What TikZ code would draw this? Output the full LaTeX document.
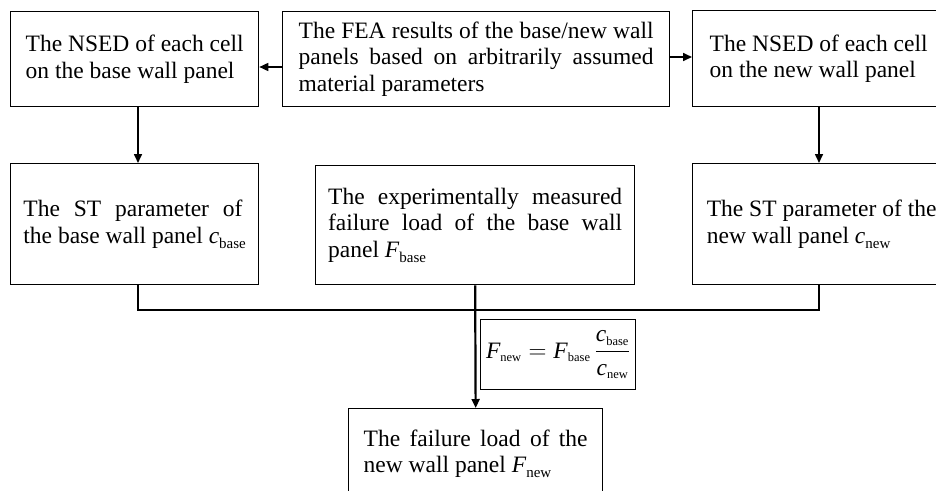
\documentclass[tikz,border=0pt]{standalone}
\usepackage{fontspec}
\usepackage{amsmath}
\setmainfont{Liberation Serif}
\usetikzlibrary{arrows.meta}
\newcommand{\jl}[2]{\makebox[#1][s]{#2}}
\newcommand{\sbt}[1]{\text{\fontsize{12.5}{14}\selectfont #1}}
\newcommand{\tsb}[1]{\raisebox{-5pt}{\fontsize{15}{16}\selectfont #1}}
\begin{document}
\begin{tikzpicture}[x=1pt,y=-1pt,
  box/.style={draw, line width=1.3pt, rectangle, inner sep=0pt, anchor=north west,
    font=\fontsize{23.5}{26.5}\selectfont, align=left},
  arr/.style={-{Triangle[length=9pt,width=8pt]}, line width=1.6pt},
  link/.style={line width=1.5pt}]
\clip (0,0) rectangle (936,490);
\fill[white] (0,0) rectangle (936,490);
\node[box, minimum width=248pt, minimum height=95pt] (b1) at (10,11)
  {The NSED of each cell\\on the base wall panel};
\node[box, minimum width=387pt, minimum height=95pt] (fea) at (282,11)
  {\jl{355pt}{The FEA results of the base/new wall}\\\jl{355pt}{panels based on arbitrarily assumed}\\material parameters};
\node[box, minimum width=252pt, minimum height=96pt] (b3) at (692,10)
  {The NSED of each cell\\on the new wall panel};
\node[box, minimum width=248pt, minimum height=121pt] (b4) at (10,163)
  {\jl{219pt}{The ST parameter of}\\the base wall panel \textit{c}\tsb{base}};
\node[box, minimum width=319pt, minimum height=119pt] (b5) at (315,165)
  {\jl{294pt}{The experimentally measured}\\\jl{294pt}{failure load of the base wall}\\panel \textit{F}\tsb{base}};
\node[box, minimum width=258pt, minimum height=121pt] (b6) at (692,163)
  {The ST parameter of the\\new wall panel \textit{c}\tsb{new}};
\node[box, minimum width=155pt, minimum height=70pt, align=center] (fm) at (480,319)
  {$\text{\itshape F}_{\sbt{new}} = \text{\itshape F}_{\sbt{base}}\,\dfrac{\text{\itshape c}_{\sbt{base}}}{\text{\itshape c}_{\sbt{new}}}$};
\node[box, minimum width=254pt, minimum height=90pt] (b7) at (348,408)
  {\jl{224pt}{The failure load of the}\\new wall panel \textit{F}\tsb{new}};
\coordinate (xl) at (138,0);
\coordinate (xr) at (819,0);
\coordinate (yj) at (0,310);
\coordinate (yla) at (0,67);
\coordinate (yra) at (0,57);
\draw[arr] (fea.west |- yla) -- (b1.east |- yla);
\draw[arr] (fea.east |- yra) -- (b3.west |- yra);
\draw[arr] (b1.south -| xl) -- (b4.north -| xl);
\draw[arr] (b3.south -| xr) -- (b6.north -| xr);
\draw[link] (b4.south -| xl) -- (xl |- yj) -- (xr |- yj) -- (b6.south -| xr);
\draw[arr, line width=2.2pt] (b5.south) -- (b7.north);
\end{tikzpicture}
\end{document}
